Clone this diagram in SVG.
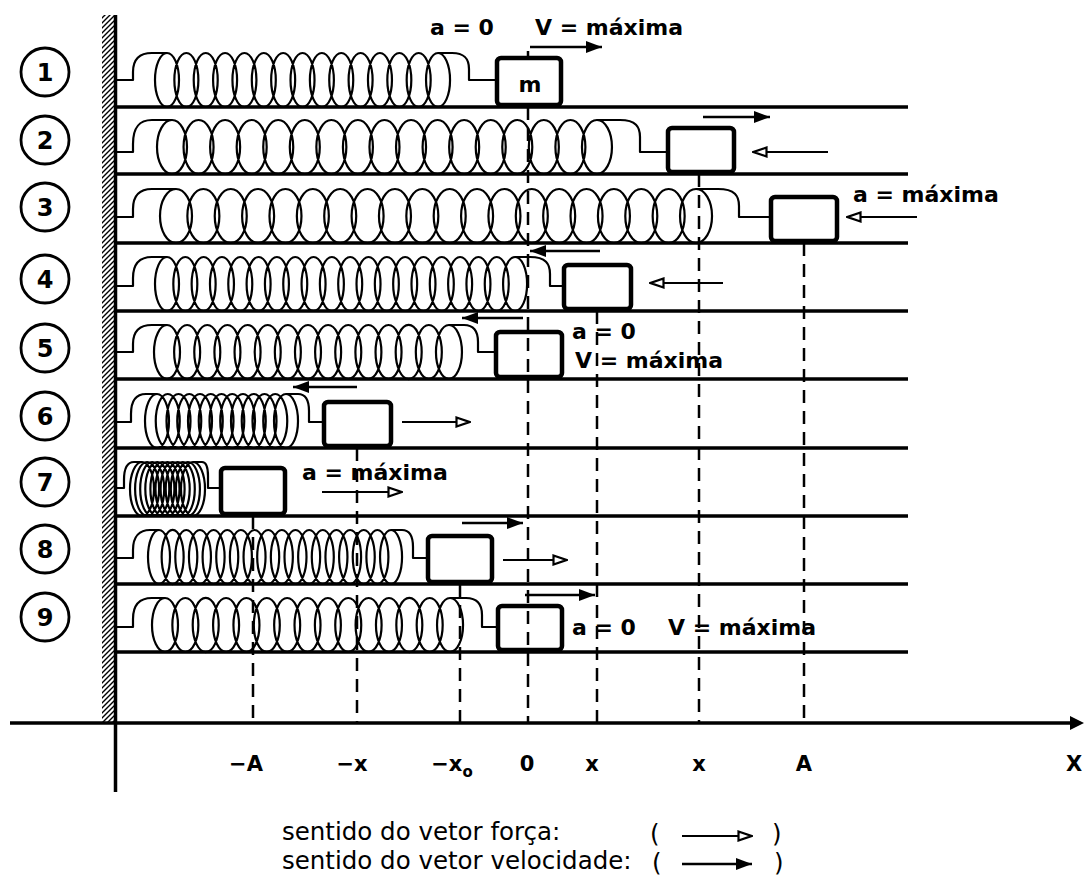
<svg xmlns="http://www.w3.org/2000/svg" width="1084" height="876" viewBox="0 0 1084 876">
<style>
.ln{stroke:#000;stroke-width:3.5;fill:none}
.spr{stroke:#000;stroke-width:2.2;fill:none;stroke-linejoin:round}
.box{stroke:#000;stroke-width:4.5;fill:#fff}
.dash{stroke:#000;stroke-width:2.5;stroke-dasharray:13 8;fill:none}
.vel{stroke:#000;stroke-width:2.5;fill:none;marker-end:url(#hv)}
.frc{stroke:#000;stroke-width:2.2;fill:none;marker-end:url(#hf)}
.lbl{font-family:"DejaVu Sans",sans-serif;font-weight:bold;font-size:22px}
.ax{font-family:"DejaVu Sans",sans-serif;font-weight:bold;font-size:21px;text-anchor:middle}
.num{font-family:"DejaVu Sans",sans-serif;font-weight:bold;font-size:24px;text-anchor:middle}
.leg{font-family:"DejaVu Sans",sans-serif;font-size:24.5px}
.circ{stroke:#000;stroke-width:2.8;fill:none}
</style>
<defs>
<pattern id="hatch" width="5" height="5" patternUnits="userSpaceOnUse">
<path d="M-1,1 L1,-1 M0,5 L5,0 M4,6 L6,4" stroke="#000" stroke-width="1.4"/>
</pattern>
<marker id="hv" viewBox="0 0 16 12" markerWidth="16" markerHeight="12" refX="16" refY="6" orient="auto" markerUnits="userSpaceOnUse">
<path d="M0,0 L16,6 L0,12 Z" fill="#000"/>
</marker>
<marker id="hf" viewBox="0 0 16 12" markerWidth="16" markerHeight="12" refX="15" refY="6" orient="auto" markerUnits="userSpaceOnUse">
<path d="M1.5,1.5 L14.5,6 L1.5,10.5 Z" fill="#fff" stroke="#000" stroke-width="2.2"/>
</marker>
</defs>
<rect width="1084" height="876" fill="#fff"/>

<g id="wall">
<rect x="102" y="15" width="12" height="708" fill="url(#hatch)"/>
<line class="ln" x1="115.5" y1="15" x2="115.5" y2="792"/>
</g>

<g id="axis">
<line class="ln" x1="10" y1="723" x2="1076" y2="723"/>
<polygon points="1070,716 1084,723 1070,730" fill="#000"/>
</g>

<g id="tracks">
<path class="ln" d="M115,107 H908 M115,174 H908 M115,243 H908 M115,311 H908 M115,379 H908 M115,448 H908 M115,516 H908 M115,584 H908 M115,652 H908"/>
</g>

<g id="numbers">
<circle class="circ" cx="45" cy="72" r="24"/><text class="num" x="45" y="81">1</text>
<circle class="circ" cx="45" cy="140" r="24"/><text class="num" x="45" y="149">2</text>
<circle class="circ" cx="45" cy="207" r="24"/><text class="num" x="45" y="216">3</text>
<circle class="circ" cx="45" cy="279" r="24"/><text class="num" x="45" y="288">4</text>
<circle class="circ" cx="45" cy="348" r="24"/><text class="num" x="45" y="357">5</text>
<circle class="circ" cx="45" cy="416" r="24"/><text class="num" x="45" y="425">6</text>
<circle class="circ" cx="45" cy="482" r="24"/><text class="num" x="45" y="491">7</text>
<circle class="circ" cx="45" cy="549" r="24"/><text class="num" x="45" y="558">8</text>
<circle class="circ" cx="45" cy="617" r="24"/><text class="num" x="45" y="626">9</text>
</g>

<g id="row1">
<path class="spr" d="M115,80 H133 V72 C133,59 140,53 152,53 H167 M438,53 H452 C465,53 469,59 469,69 V80 H496"/>
<path class="spr" d="M155,80 a12,27 0 1 0 24 0a12,27 0 1 0-24 0m19.36 0a12,27 0 1 0 24 0a12,27 0 1 0-24 0m19.36 0a12,27 0 1 0 24 0a12,27 0 1 0-24 0m19.36 0a12,27 0 1 0 24 0a12,27 0 1 0-24 0m19.36 0a12,27 0 1 0 24 0a12,27 0 1 0-24 0m19.36 0a12,27 0 1 0 24 0a12,27 0 1 0-24 0m19.36 0a12,27 0 1 0 24 0a12,27 0 1 0-24 0m19.36 0a12,27 0 1 0 24 0a12,27 0 1 0-24 0m19.36 0a12,27 0 1 0 24 0a12,27 0 1 0-24 0m19.36 0a12,27 0 1 0 24 0a12,27 0 1 0-24 0m19.36 0a12,27 0 1 0 24 0a12,27 0 1 0-24 0m19.36 0a12,27 0 1 0 24 0a12,27 0 1 0-24 0m19.36 0a12,27 0 1 0 24 0a12,27 0 1 0-24 0m19.36 0a12,27 0 1 0 24 0a12,27 0 1 0-24 0m19.36 0a12,27 0 1 0 24 0a12,27 0 1 0-24 0"/>
<rect class="box" x="497" y="58" width="64" height="47" rx="4"/>
<text class="lbl" x="530" y="92" text-anchor="middle">m</text>
</g>

<g id="row2">
<path class="spr" d="M115,152 H133 V144 C133,126 140,120 152,120 H172 M597,120 H620 C636,120 640,127 640,137 V152 H668"/>
<path class="spr" d="M157,147 a15,27 0 1 0 30 0a15,27 0 1 0-30 0m26.56 0a15,27 0 1 0 30 0a15,27 0 1 0-30 0m26.56 0a15,27 0 1 0 30 0a15,27 0 1 0-30 0m26.56 0a15,27 0 1 0 30 0a15,27 0 1 0-30 0m26.56 0a15,27 0 1 0 30 0a15,27 0 1 0-30 0m26.56 0a15,27 0 1 0 30 0a15,27 0 1 0-30 0m26.56 0a15,27 0 1 0 30 0a15,27 0 1 0-30 0m26.56 0a15,27 0 1 0 30 0a15,27 0 1 0-30 0m26.56 0a15,27 0 1 0 30 0a15,27 0 1 0-30 0m26.56 0a15,27 0 1 0 30 0a15,27 0 1 0-30 0m26.56 0a15,27 0 1 0 30 0a15,27 0 1 0-30 0m26.56 0a15,27 0 1 0 30 0a15,27 0 1 0-30 0m26.56 0a15,27 0 1 0 30 0a15,27 0 1 0-30 0m26.56 0a15,27 0 1 0 30 0a15,27 0 1 0-30 0m26.56 0a15,27 0 1 0 30 0a15,27 0 1 0-30 0m26.56 0a15,27 0 1 0 30 0a15,27 0 1 0-30 0m26.56 0a15,27 0 1 0 30 0a15,27 0 1 0-30 0"/>
<rect class="box" x="668" y="128" width="66" height="44" rx="4"/>
</g>

<g id="row3">
<path class="spr" d="M115,217 H133 V209 C133,195 140,189 152,189 H176 M696,189 H718 C735,189 739,196 739,206 V217 H770"/>
<path class="spr" d="M160,216 a16,27 0 1 0 32 0a16,27 0 1 0-32 0m27.37 0a16,27 0 1 0 32 0a16,27 0 1 0-32 0m27.37 0a16,27 0 1 0 32 0a16,27 0 1 0-32 0m27.37 0a16,27 0 1 0 32 0a16,27 0 1 0-32 0m27.37 0a16,27 0 1 0 32 0a16,27 0 1 0-32 0m27.37 0a16,27 0 1 0 32 0a16,27 0 1 0-32 0m27.37 0a16,27 0 1 0 32 0a16,27 0 1 0-32 0m27.37 0a16,27 0 1 0 32 0a16,27 0 1 0-32 0m27.37 0a16,27 0 1 0 32 0a16,27 0 1 0-32 0m27.37 0a16,27 0 1 0 32 0a16,27 0 1 0-32 0m27.37 0a16,27 0 1 0 32 0a16,27 0 1 0-32 0m27.37 0a16,27 0 1 0 32 0a16,27 0 1 0-32 0m27.37 0a16,27 0 1 0 32 0a16,27 0 1 0-32 0m27.37 0a16,27 0 1 0 32 0a16,27 0 1 0-32 0m27.37 0a16,27 0 1 0 32 0a16,27 0 1 0-32 0m27.37 0a16,27 0 1 0 32 0a16,27 0 1 0-32 0m27.37 0a16,27 0 1 0 32 0a16,27 0 1 0-32 0m27.37 0a16,27 0 1 0 32 0a16,27 0 1 0-32 0m27.37 0a16,27 0 1 0 32 0a16,27 0 1 0-32 0m27.37 0a16,27 0 1 0 32 0a16,27 0 1 0-32 0"/>
<rect class="box" x="771" y="197" width="66" height="44" rx="4"/>
</g>

<g id="row4">
<path class="spr" d="M115,286 H133 V278 C133,263 140,257 152,257 H167 M515,257 H530 C546,257 550,264 550,274 V286 H563"/>
<path class="spr" d="M155,284 a12,27 0 1 0 24 0a12,27 0 1 0-24 0m18.32 0a12,27 0 1 0 24 0a12,27 0 1 0-24 0m18.32 0a12,27 0 1 0 24 0a12,27 0 1 0-24 0m18.32 0a12,27 0 1 0 24 0a12,27 0 1 0-24 0m18.32 0a12,27 0 1 0 24 0a12,27 0 1 0-24 0m18.32 0a12,27 0 1 0 24 0a12,27 0 1 0-24 0m18.32 0a12,27 0 1 0 24 0a12,27 0 1 0-24 0m18.32 0a12,27 0 1 0 24 0a12,27 0 1 0-24 0m18.32 0a12,27 0 1 0 24 0a12,27 0 1 0-24 0m18.32 0a12,27 0 1 0 24 0a12,27 0 1 0-24 0m18.32 0a12,27 0 1 0 24 0a12,27 0 1 0-24 0m18.32 0a12,27 0 1 0 24 0a12,27 0 1 0-24 0m18.32 0a12,27 0 1 0 24 0a12,27 0 1 0-24 0m18.32 0a12,27 0 1 0 24 0a12,27 0 1 0-24 0m18.32 0a12,27 0 1 0 24 0a12,27 0 1 0-24 0m18.32 0a12,27 0 1 0 24 0a12,27 0 1 0-24 0m18.32 0a12,27 0 1 0 24 0a12,27 0 1 0-24 0m18.32 0a12,27 0 1 0 24 0a12,27 0 1 0-24 0m18.32 0a12,27 0 1 0 24 0a12,27 0 1 0-24 0m18.32 0a12,27 0 1 0 24 0a12,27 0 1 0-24 0"/>
<rect class="box" x="564" y="265" width="67" height="44" rx="4"/>
</g>

<g id="row5">
<path class="spr" d="M115,352 H133 V344 C133,331 140,325 152,325 H167 M449,325 H464 C474,325 478,332 478,342 V352 H495"/>
<path class="spr" d="M154,352 a13,27 0 1 0 26 0a13,27 0 1 0-26 0m20.14 0a13,27 0 1 0 26 0a13,27 0 1 0-26 0m20.14 0a13,27 0 1 0 26 0a13,27 0 1 0-26 0m20.14 0a13,27 0 1 0 26 0a13,27 0 1 0-26 0m20.14 0a13,27 0 1 0 26 0a13,27 0 1 0-26 0m20.14 0a13,27 0 1 0 26 0a13,27 0 1 0-26 0m20.14 0a13,27 0 1 0 26 0a13,27 0 1 0-26 0m20.14 0a13,27 0 1 0 26 0a13,27 0 1 0-26 0m20.14 0a13,27 0 1 0 26 0a13,27 0 1 0-26 0m20.14 0a13,27 0 1 0 26 0a13,27 0 1 0-26 0m20.14 0a13,27 0 1 0 26 0a13,27 0 1 0-26 0m20.14 0a13,27 0 1 0 26 0a13,27 0 1 0-26 0m20.14 0a13,27 0 1 0 26 0a13,27 0 1 0-26 0m20.14 0a13,27 0 1 0 26 0a13,27 0 1 0-26 0m20.14 0a13,27 0 1 0 26 0a13,27 0 1 0-26 0"/>
<rect class="box" x="496" y="332" width="66" height="45" rx="4"/>
</g>

<g id="row6">
<path class="spr" d="M115,422 H131 V414 C131,400 136,394 146,394 H157 M286,394 H298 C306,394 309,401 309,411 V422 H323"/>
<path class="spr" d="M145,421 a12,27 0 1 0 24 0a12,27 0 1 0-24 0m10.75 0a12,27 0 1 0 24 0a12,27 0 1 0-24 0m10.75 0a12,27 0 1 0 24 0a12,27 0 1 0-24 0m10.75 0a12,27 0 1 0 24 0a12,27 0 1 0-24 0m10.75 0a12,27 0 1 0 24 0a12,27 0 1 0-24 0m10.75 0a12,27 0 1 0 24 0a12,27 0 1 0-24 0m10.75 0a12,27 0 1 0 24 0a12,27 0 1 0-24 0m10.75 0a12,27 0 1 0 24 0a12,27 0 1 0-24 0m10.75 0a12,27 0 1 0 24 0a12,27 0 1 0-24 0m10.75 0a12,27 0 1 0 24 0a12,27 0 1 0-24 0m10.75 0a12,27 0 1 0 24 0a12,27 0 1 0-24 0m10.75 0a12,27 0 1 0 24 0a12,27 0 1 0-24 0m10.75 0a12,27 0 1 0 24 0a12,27 0 1 0-24 0"/>
<rect class="box" x="324" y="402" width="67" height="44" rx="4"/>
</g>

<g id="row7">
<path class="spr" d="M115,488 H124 V480 C124,468 127,462 134,462 H142 M193,462 H202 C206,462 208,468 208,476 V488 H220"/>
<path class="spr" d="M130,489 a12,27 0 1 0 24 0a12,27 0 1 0-24 0m5.1 0a12,27 0 1 0 24 0a12,27 0 1 0-24 0m5.1 0a12,27 0 1 0 24 0a12,27 0 1 0-24 0m5.1 0a12,27 0 1 0 24 0a12,27 0 1 0-24 0m5.1 0a12,27 0 1 0 24 0a12,27 0 1 0-24 0m5.1 0a12,27 0 1 0 24 0a12,27 0 1 0-24 0m5.1 0a12,27 0 1 0 24 0a12,27 0 1 0-24 0m5.1 0a12,27 0 1 0 24 0a12,27 0 1 0-24 0m5.1 0a12,27 0 1 0 24 0a12,27 0 1 0-24 0m5.1 0a12,27 0 1 0 24 0a12,27 0 1 0-24 0m5.1 0a12,27 0 1 0 24 0a12,27 0 1 0-24 0"/>
<rect class="box" x="221" y="468" width="64" height="46" rx="4"/>
</g>

<g id="row8">
<path class="spr" d="M115,558 H133 V550 C133,536 140,530 150,530 H159 M391,530 H402 C410,530 413,537 413,547 V558 H427"/>
<path class="spr" d="M148,557 a11,27 0 1 0 22 0a11,27 0 1 0-22 0m13.65 0a11,27 0 1 0 22 0a11,27 0 1 0-22 0m13.65 0a11,27 0 1 0 22 0a11,27 0 1 0-22 0m13.65 0a11,27 0 1 0 22 0a11,27 0 1 0-22 0m13.65 0a11,27 0 1 0 22 0a11,27 0 1 0-22 0m13.65 0a11,27 0 1 0 22 0a11,27 0 1 0-22 0m13.65 0a11,27 0 1 0 22 0a11,27 0 1 0-22 0m13.65 0a11,27 0 1 0 22 0a11,27 0 1 0-22 0m13.65 0a11,27 0 1 0 22 0a11,27 0 1 0-22 0m13.65 0a11,27 0 1 0 22 0a11,27 0 1 0-22 0m13.65 0a11,27 0 1 0 22 0a11,27 0 1 0-22 0m13.65 0a11,27 0 1 0 22 0a11,27 0 1 0-22 0m13.65 0a11,27 0 1 0 22 0a11,27 0 1 0-22 0m13.65 0a11,27 0 1 0 22 0a11,27 0 1 0-22 0m13.65 0a11,27 0 1 0 22 0a11,27 0 1 0-22 0m13.65 0a11,27 0 1 0 22 0a11,27 0 1 0-22 0m13.65 0a11,27 0 1 0 22 0a11,27 0 1 0-22 0m13.65 0a11,27 0 1 0 22 0a11,27 0 1 0-22 0"/>
<rect class="box" x="428" y="536" width="64" height="46" rx="4"/>
</g>

<g id="row9">
<path class="spr" d="M115,627 H133 V619 C133,604 140,598 152,598 H165 M450,598 H466 C478,598 482,605 482,615 V627 H497"/>
<path class="spr" d="M152,625 a13,27 0 1 0 26 0a13,27 0 1 0-26 0m20.36 0a13,27 0 1 0 26 0a13,27 0 1 0-26 0m20.36 0a13,27 0 1 0 26 0a13,27 0 1 0-26 0m20.36 0a13,27 0 1 0 26 0a13,27 0 1 0-26 0m20.36 0a13,27 0 1 0 26 0a13,27 0 1 0-26 0m20.36 0a13,27 0 1 0 26 0a13,27 0 1 0-26 0m20.36 0a13,27 0 1 0 26 0a13,27 0 1 0-26 0m20.36 0a13,27 0 1 0 26 0a13,27 0 1 0-26 0m20.36 0a13,27 0 1 0 26 0a13,27 0 1 0-26 0m20.36 0a13,27 0 1 0 26 0a13,27 0 1 0-26 0m20.36 0a13,27 0 1 0 26 0a13,27 0 1 0-26 0m20.36 0a13,27 0 1 0 26 0a13,27 0 1 0-26 0m20.36 0a13,27 0 1 0 26 0a13,27 0 1 0-26 0m20.36 0a13,27 0 1 0 26 0a13,27 0 1 0-26 0m20.36 0a13,27 0 1 0 26 0a13,27 0 1 0-26 0"/>
<rect class="box" x="498" y="606" width="64" height="44" rx="4"/>
</g>

<g id="guides">
<line x1="528" y1="51" x2="528" y2="60" stroke="#000" stroke-width="2.5"/>
<path class="dash" d="M528,107 V722 M699,174 V722 M804,243 V722 M597,311 V722 M357,448 V722 M253,516 V722 M460,584 V722"/>
</g>

<g id="arrows">
<path class="vel" d="M530,47 H602"/>
<path class="vel" d="M703,117 H770"/>
<path class="frc" d="M828,152 H753"/>
<path class="frc" d="M917,217 H847"/>
<path class="vel" d="M600,251 H530"/>
<path class="frc" d="M723,283 H650"/>
<path class="vel" d="M523,318 H462"/>
<path class="vel" d="M357,387 H293"/>
<path class="frc" d="M402,422 H470"/>
<path class="frc" d="M322,492 H402"/>
<path class="vel" d="M462,523 H523"/>
<path class="frc" d="M503,560 H567"/>
<path class="vel" d="M525,595 H595"/>
</g>

<g id="labels">
<text class="lbl" x="430" y="35">a = 0</text>
<text class="lbl" x="535" y="35">V = máxima</text>
<text class="lbl" x="853" y="202">a = máxima</text>
<text class="lbl" x="572" y="339">a = 0</text>
<text class="lbl" x="575" y="368">V = máxima</text>
<text class="lbl" x="302" y="480">a = máxima</text>
<text class="lbl" x="572" y="635">a = 0</text>
<text class="lbl" x="668" y="635">V = máxima</text>
</g>

<g id="axis-labels">
<text class="ax" x="246" y="771">−A</text>
<text class="ax" x="352" y="771">−x</text>
<text class="ax" x="452" y="771">−x<tspan font-size="15" dy="6">o</tspan></text>
<text class="ax" x="527" y="771">0</text>
<text class="ax" x="592" y="771">x</text>
<text class="ax" x="699" y="771">x</text>
<text class="ax" x="804" y="771">A</text>
<text class="ax" x="1074" y="771">X</text>
</g>

<g id="legend">
<text class="leg" x="282" y="840">sentido do vetor força:</text>
<text class="leg" x="282" y="869">sentido do vetor velocidade:</text>
<text class="leg" x="650" y="842" font-size="20">(</text>
<text class="leg" x="772" y="842" font-size="20">)</text>
<text class="leg" x="652" y="871" font-size="20">(</text>
<text class="leg" x="774" y="871" font-size="20">)</text>
<path class="frc" d="M682,836 H752"/>
<path class="vel" d="M682,864 H752"/>
</g>
</svg>
